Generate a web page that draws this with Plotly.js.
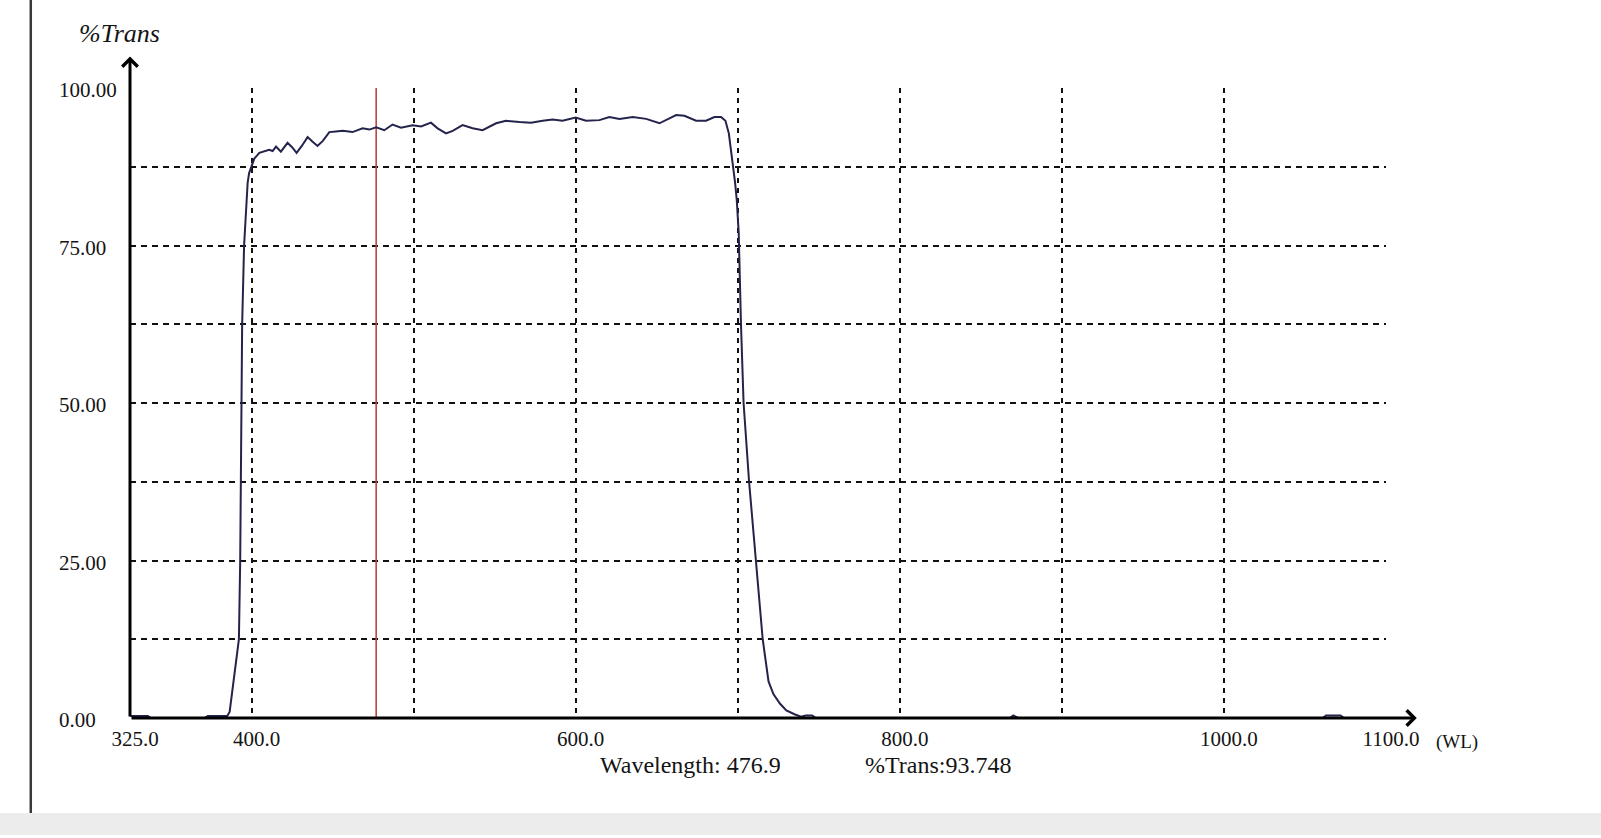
<!DOCTYPE html>
<html>
<head>
<meta charset="utf-8">
<script src="https://cdn.plot.ly/plotly-3.0.1.min.js"></script>
<style>
html,body{margin:0;padding:0;background:#fff;}
#chart{width:1601px;height:838px;}
</style>
</head>
<body>
<div id="chart"></div>
<script>
// Spectrum: wavelength (nm) vs %Transmission
const wavelength = [325, 327, 336, 338, 371, 373, 385, 386.5, 388.6, 390.5, 392.2, 393.0, 393.3, 393.6, 394.2, 395.4, 396.5, 397.6, 398.5, 400,
  401.7, 404.8, 407.5, 410.9, 413, 415.1, 418.1, 420, 422.2, 425, 427.8, 431, 434.6, 437.5, 440.7, 444, 448, 452, 456.2, 462.3,
  468.5, 472.7, 476.9, 481.9, 487, 492.2, 499.4, 504.6, 510.7, 514.8, 520, 524.1, 530.2, 536.4, 542.6, 550.9, 557, 565.2, 572.5, 579.6,
  585.8, 591.9, 600, 606.4, 614.6, 620.8, 627, 635.2, 643.5, 651.7, 656.8, 662, 667.1, 674.3, 680.5, 685.6, 689.7, 692.4, 694.5, 695.9,
  696.9, 698.4, 699.4, 700.6, 702, 703.6, 707, 711, 715.4, 719, 722, 726, 730, 735, 739, 742, 746, 748,
  868, 870, 873, 1061, 1063, 1072, 1074, 1100];
const transmission = [0.3, 0.3, 0.3, 0, 0, 0.3, 0.3, 1, 5, 9, 12.5, 25, 40, 50, 62.5, 75, 80, 85, 86.5, 87.5,
  88.8, 89.7, 89.9, 90.2, 90.0, 90.7, 89.9, 90.6, 91.3, 90.6, 89.7, 90.8, 92.2, 91.5, 90.8, 91.6, 93.0, 93.1, 93.2, 93.0,
  93.6, 93.4, 93.748, 93.3, 94.2, 93.7, 94.1, 93.9, 94.5, 93.6, 92.8, 93.2, 94.1, 93.6, 93.3, 94.4, 94.8, 94.6, 94.5, 94.8,
  95.0, 94.8, 95.3, 94.8, 94.9, 95.4, 95.1, 95.4, 95.1, 94.4, 95.0, 95.7, 95.6, 94.8, 94.8, 95.4, 95.4, 94.8, 92.8, 90.2,
  87.8, 84.9, 82.2, 77, 62.5, 50, 37.5, 25, 12.5, 5.8, 3.8, 2.3, 1.2, 0.6, 0.2, 0.4, 0.4, 0,
  0, 0.4, 0, 0, 0.4, 0.4, 0, 0];

const cursorWavelength = 476.9;
const cursorTrans = 93.748;

const xTickVals = [325, 400, 600, 800, 1000, 1100];
const xTickText = ['325.0', '400.0', '600.0', '800.0', '1000.0', '1100.0'];
const xGridVals = [400, 500, 600, 700, 800, 900, 1000];
const yTickVals = [0, 25, 50, 75, 100];
const yTickText = ['0.00', '25.00', '50.00', '75.00', '100.00'];
const yGridVals = [12.5, 25, 37.5, 50, 62.5, 75, 87.5];

const xMin = 325, xMax = 1100, xArrowTip = 1119;
const yMin = 0, yMax = 100, yArrowTip = 105;

const serif = 'Liberation Serif, Times New Roman, serif';

const traces = [
  {
    x: [cursorWavelength, cursorWavelength],
    y: [yMin, yMax],
    type: 'scatter', mode: 'lines',
    line: {color: '#b8473f', width: 1.6},
    hoverinfo: 'skip', showlegend: false
  },
  {
    x: wavelength, y: transmission,
    type: 'scatter', mode: 'lines',
    line: {color: '#23234c', width: 2},
    showlegend: false, cliponaxis: false
  }
];

const annotations = [];
// axes with arrow heads
annotations.push({x: xArrowTip, y: 0, ax: xMin, ay: 0, xref: 'x', yref: 'y', axref: 'x', ayref: 'y',
  text: '', showarrow: true, arrowhead: 4, arrowsize: 1, arrowwidth: 3, arrowcolor: '#000', standoff: 0, startstandoff: 0});
annotations.push({x: xMin, y: yArrowTip, ax: xMin, ay: 0, xref: 'x', yref: 'y', axref: 'x', ayref: 'y',
  text: '', showarrow: true, arrowhead: 4, arrowsize: 1, arrowwidth: 3, arrowcolor: '#000', standoff: 0, startstandoff: 0});
// y tick labels (left aligned like the original)
yTickVals.forEach((v, i) => {
  annotations.push({x: -0.0581, y: v, xref: 'paper', yref: 'y', xanchor: 'left', yanchor: 'middle', yshift: -2,
    text: yTickText[i], showarrow: false, font: {family: serif, size: 21, color: '#141414'}});
});
// axis titles
annotations.push({x: -0.0422, y: 1.0873, xref: 'paper', yref: 'paper', xanchor: 'left', yanchor: 'middle',
  text: '<i>%Trans</i>', showarrow: false, font: {family: serif, size: 26, color: '#141414'}});
annotations.push({x: 1.0386, y: -0.0376, xref: 'paper', yref: 'paper', xanchor: 'left', yanchor: 'middle',
  text: '(WL)', showarrow: false, font: {family: serif, size: 19, color: '#141414'}});
// cursor readout
annotations.push({x: 0.446, y: -0.0746, xref: 'paper', yref: 'paper', xanchor: 'center', yanchor: 'middle',
  text: 'Wavelength: ' + cursorWavelength.toFixed(1), showarrow: false, font: {family: serif, size: 24, color: '#141414'}});
annotations.push({x: 0.6437, y: -0.0746, xref: 'paper', yref: 'paper', xanchor: 'center', yanchor: 'middle',
  text: '%Trans:' + cursorTrans.toFixed(3), showarrow: false, font: {family: serif, size: 24, color: '#141414'}});

const layout = {
  width: 1601, height: 838,
  margin: {l: 130, r: 214.5, t: 88, b: 120},
  paper_bgcolor: '#ffffff', plot_bgcolor: '#ffffff',
  showlegend: false,
  xaxis: {
    range: [xMin, xMax], tickmode: 'array', tickvals: xTickVals, ticktext: xTickText,
    showgrid: false, zeroline: false, showline: false, ticks: '',
    ticklabelshift: 5, ticklabelstandoff: 6,
    tickfont: {family: serif, size: 21, color: '#141414'},
    minor: {tickmode: 'array', tickvals: xGridVals, showgrid: true, gridcolor: '#111', gridwidth: 2, griddash: '5px,5px', ticks: ''}
  },
  yaxis: {
    range: [yMin, yMax], tickmode: 'array', tickvals: yGridVals, showticklabels: false,
    showgrid: true, gridcolor: '#111', gridwidth: 2, griddash: '6px,5px',
    zeroline: false, showline: false, ticks: ''
  },
  shapes: [
    {type: 'rect', xref: 'paper', yref: 'paper', x0: -0.11, x1: 1.18, y0: -0.1508, y1: -0.1857,
      fillcolor: '#ececec', line: {width: 0}, layer: 'below'},
    {type: 'line', xref: 'paper', yref: 'paper', x0: -0.079, x1: -0.079, y0: 1.15, y1: -0.1508,
      line: {color: '#3a3a3a', width: 2.5}}
  ],
  annotations: annotations
};

Plotly.newPlot('chart', traces, layout, {displayModeBar: false, staticPlot: true});
</script>
</body>
</html>
